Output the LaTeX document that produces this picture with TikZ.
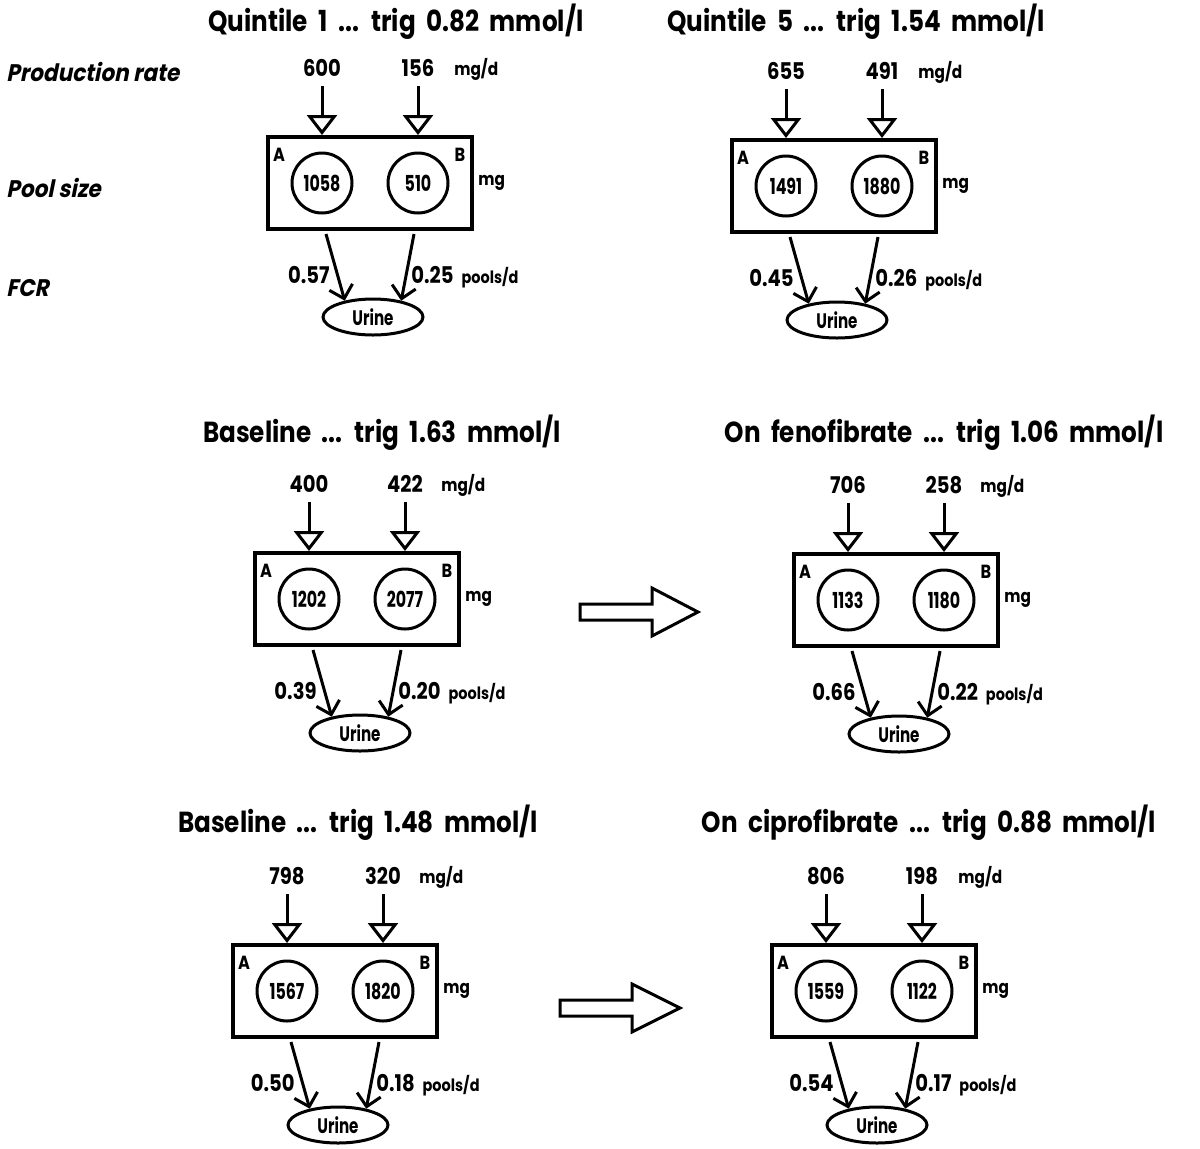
\documentclass[tikz,border=0pt]{standalone}
\usepackage{fontspec}
\setmainfont{Poppins Bold}[FakeStretch=0.85, WordSpace=2.0]
\newfontfamily\itfont{Poppins Bold}[FakeSlant=0.2, FakeStretch=0.9]
\newfontfamily\narrowfont{Poppins Bold}[FakeStretch=0.72]
\usetikzlibrary{shapes.geometric, arrows.meta}

\newcommand\panel[9]{%
  \node[boxst] (#1box) at (#2,#3+46) {};
  \node[pool] (#1ca) at (#2-48,#3+46) {#6};
  \node[pool] (#1cb) at (#2+48,#3+46) {#7};
  \node[corner] (#1la) at (#2-91,#3+18) {A};
  \node[corner] (#1lb) at (#2+90,#3+18) {B};
  \node[unit, anchor=west] (#1mg) at (#2+108,#3+46) {mg};
  \node[num, anchor=base] (#1pa) at (#2-48,#3-61) {#4};
  \node[num, anchor=base] (#1pb) at (#2+48,#3-61) {#5};
  \node[unit, anchor=base west] (#1mgd) at (#2+84,#3-62) {mg/d};
  \draw[inarr] ([yshift=-5pt]#1pa.base) -- (#1pa.base |- #1box.north);
  \draw[inarr] ([yshift=-5pt]#1pb.base) -- (#1pb.base |- #1box.north);
  \node[urine] (#1ur) at (#2+3,#3+180) {Urine};
  \coordinate (#1oa) at (#2-44,#3+97);
  \coordinate (#1ob) at (#2+44,#3+97);
  \draw[outarr] (#1oa) -- (#1ur.150);
  \draw[outarr] (#1ob) -- (#1ur.30);
  \node[num, anchor=base east] (#1fa) at (#2-40,#3+146) {#8};
  \node[num, anchor=base west] (#1fb) at (#2+41,#3+146) {#9\hspace{4pt}{\fontsize{8.5}{8.5}\selectfont pools/d}};
}

\begin{document}
\begin{tikzpicture}[x=0.5pt, y=-0.5pt,
  boxst/.style={draw, line width=2pt, minimum width=102pt, minimum height=46pt, inner sep=0},
  pool/.style={draw, circle, line width=1.5pt, minimum size=30pt, inner sep=0, font=\narrowfont\fontsize{11}{11}\selectfont},
  corner/.style={font=\fontsize{9.5}{9.5}\selectfont, inner sep=0},
  num/.style={font=\fontsize{11.5}{12}\selectfont, inner sep=0},
  unit/.style={font=\fontsize{9}{9}\selectfont, inner sep=0},
  urine/.style={draw, ellipse, line width=1.5pt, minimum width=50pt, minimum height=18pt, inner sep=0, font=\narrowfont\fontsize{10.5}{10.5}\selectfont},
  inarr/.style={line width=1.5pt, -{Triangle[open, width=15pt, length=10pt, line width=1.5pt]}},
  outarr/.style={line width=1.5pt, -{Straight Barb[length=6pt, width=12pt, line width=1.5pt]}},
  title/.style={font=\fontsize{14.5}{14.5}\selectfont, inner sep=0},
  rowlab/.style={font=\itfont\fontsize{12}{12}\selectfont, inner sep=0, anchor=west},
  bigarr/.style={draw, line width=1.5pt, line join=miter}
]
\fill[white] (0,0) rectangle (1200,1148);
\useasboundingbox (0,0) rectangle (1200,1148);

\node[title] (t1) at (396,22) {Quintile 1 ... trig 0.82 mmol/l};
\node[title] (t2) at (856,22) {Quintile 5 ... trig 1.54 mmol/l};
\node[title] (t3) at (382,433) {Baseline ... trig 1.63 mmol/l};
\node[title] (t4) at (944,433) {On fenofibrate ... trig 1.06 mmol/l};
\node[title] (t5) at (358,823) {Baseline ... trig 1.48 mmol/l};
\node[title] (t6) at (929,823) {On ciprofibrate ... trig 0.88 mmol/l};

\node[rowlab] (r1) at (6,72) {Production rate};
\node[rowlab] (r2) at (6,188) {Pool size};
\node[rowlab] (r3) at (6,288) {FCR};

\panel{p1}{370}{137}{600}{156}{1058}{510}{0.57}{0.25}
\panel{p2}{834}{140}{655}{491}{1491}{1880}{0.45}{0.26}
\panel{p3}{357}{553}{400}{422}{1202}{2077}{0.39}{0.20}
\panel{p4}{896}{554}{706}{258}{1133}{1180}{0.66}{0.22}
\panel{p5}{335}{945}{798}{320}{1567}{1820}{0.50}{0.18}
\panel{p6}{874}{945}{806}{198}{1559}{1122}{0.54}{0.17}

\draw[bigarr] (580,604) -- (652,604) -- (652,588) -- (698,612) -- (652,636) -- (652,620) -- (580,620) -- cycle;
\draw[bigarr] (560,1000) -- (632,1000) -- (632,984) -- (680,1008) -- (632,1032) -- (632,1016) -- (560,1016) -- cycle;
\end{tikzpicture}
\end{document}
